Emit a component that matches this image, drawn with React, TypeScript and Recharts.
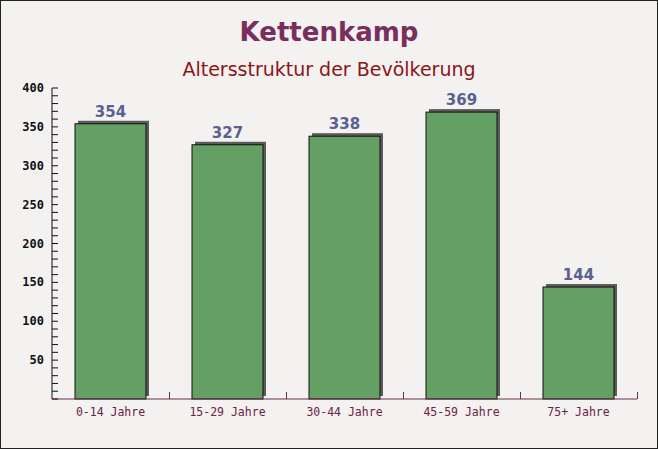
import React from 'react'
import { BarChart, Bar, XAxis, YAxis, LabelList } from 'recharts'

// --- Daten ---
const ageGroups = ['0-14 Jahre', '15-29 Jahre', '30-44 Jahre', '45-59 Jahre', '75+ Jahre']
const population = [354, 327, 338, 369, 144]
const yTicks = [
  0, 10, 20, 30, 40, 50, 60, 70, 80, 90, 100, 110, 120, 130, 140, 150, 160, 170, 180, 190, 200,
  210, 220, 230, 240, 250, 260, 270, 280, 290, 300, 310, 320, 330, 340, 350, 360, 370, 380, 390, 400,
]
const yLabelStep = 50

const data = ageGroups.map((name, i) => ({ name, value: population[i] }))

// Layout
const W = 658
const H = 449
const M = { top: 88, right: 21, bottom: 20, left: 0 }
const Y_AXIS_W = 52
const bandWidth = (W - M.left - M.right - Y_AXIS_W) / ageGroups.length

const MONO = '"DejaVu Sans Mono", "Liberation Mono", monospace'
const SANS = '"DejaVu Sans", Verdana, sans-serif'

/** Balken mit leichtem 3D-Schatten nach rechts oben */
const ShadowBar = (props: any) => {
  const { x, y, width, height } = props
  if (!height || height <= 0) return null
  return (
    <g>
      <rect x={x + 3} y={y - 3} width={width} height={height} fill="#5b5b5b" />
      <rect x={x} y={y} width={width} height={height} fill="#64a064" stroke="#111" strokeWidth={1} />
    </g>
  )
}

/** Y-Achse: Striche nach innen, Beschriftung nur alle 50 */
const YTick = (props: any) => {
  const { x, y, payload } = props
  const v = payload.value
  return (
    <g>
      <line x1={x} x2={x + 6} y1={y} y2={y} stroke="#111" strokeWidth={1} />
      {v > 0 && v % yLabelStep === 0 && (
        <text x={x - 8} y={y + 4} textAnchor="end" fontFamily={MONO} fontWeight="bold" fontSize={12} fill="#111">
          {v}
        </text>
      )}
    </g>
  )
}

/** X-Achse: Beschriftung mittig, Strich am rechten Rand der Kategorie */
const XTick = (props: any) => {
  const { x, y, payload } = props
  const tx = Math.round(x + bandWidth / 2) + 0.5
  return (
    <g>
      <line x1={tx} x2={tx} y1={y} y2={y - 7} stroke="#6b2e4a" strokeWidth={1} />
      <text x={x} y={y + 17} textAnchor="middle" fontFamily={MONO} fontSize={11.5} fill="#6b2345">
        {payload.value}
      </text>
    </g>
  )
}

const ValueLabel = (props: any) => {
  const { x, y, width, value } = props
  return (
    <text x={x + width / 2} y={y - 7} textAnchor="middle" fontFamily={SANS} fontWeight="bold" fontSize={15} fill="#5a6190">
      {value}
    </text>
  )
}

export default function App() {
  return (
    <div
      style={{
        position: 'absolute',
        left: 0,
        top: 0,
        width: W,
        height: H,
        boxSizing: 'border-box',
        border: '1px solid #222',
        background: '#f4f1f1',
        overflow: 'hidden',
      }}
    >
      <div
        style={{
          position: 'absolute',
          left: -1,
          top: 0,
          width: W,
          textAlign: 'center',
          fontFamily: SANS,
        }}
      >
        <div style={{ position: 'absolute', top: 16, width: W, fontSize: 26, fontWeight: 'bold', color: '#7a2e5c' }}>
          Kettenkamp
        </div>
        <div style={{ position: 'absolute', top: 57, width: W, fontSize: 19, color: '#8b1616' }}>
          Altersstruktur der Bevölkerung
        </div>
      </div>
      <div style={{ position: 'absolute', left: -1, top: -1 }}>
        <BarChart width={W} height={H} data={data} margin={M} barCategoryGap={23}>
          <YAxis
            type="number"
            domain={[0, 400]}
            ticks={yTicks}
            interval={0}
            width={Y_AXIS_W}
            tickSize={0}
            tickMargin={0}
            tickLine={false}
            axisLine={{ stroke: '#111' }}
            tick={<YTick />}
          />
          <XAxis
            dataKey="name"
            height={30}
            tickSize={0}
            tickMargin={0}
            tickLine={false}
            interval={0}
            axisLine={{ stroke: '#6b2e4a' }}
            tick={<XTick />}
          />
          <Bar dataKey="value" barSize={71} shape={<ShadowBar />} isAnimationActive={false}>
            <LabelList dataKey="value" content={<ValueLabel />} />
          </Bar>
        </BarChart>
      </div>
    </div>
  )
}
